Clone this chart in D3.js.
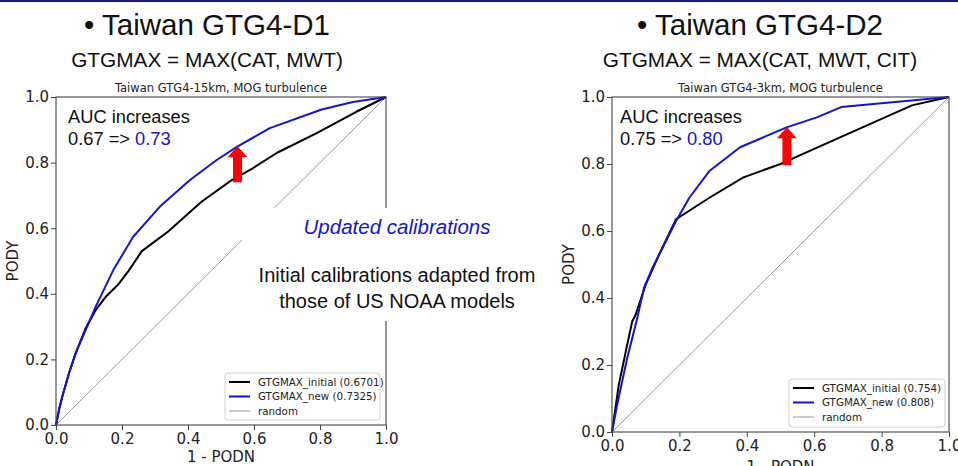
<!DOCTYPE html>
<html>
<head>
<meta charset="utf-8">
<script src="https://cdn.jsdelivr.net/npm/d3@7"></script>
<style>
    body { margin: 0; padding: 0; background: #fff; }
    svg { display: block; }
    .mpl { font-family: "DejaVu Sans", sans-serif; }
    .slide { font-family: "Liberation Sans", Arial, sans-serif; }
</style>
</head>
<body>
<div id="chart"></div>
<script>
// ---- data ----
var tickValues = [0, 0.2, 0.4, 0.6, 0.8, 1.0];

var d1Initial = [[0,0],[0.01,0.05],[0.02,0.09],[0.04,0.16],[0.06,0.22],[0.09,0.295],[0.12,0.35],
    [0.15,0.39],[0.19,0.43],[0.22,0.47],[0.26,0.53],[0.34,0.59],[0.44,0.68],[0.53,0.745],
    [0.60,0.785],[0.67,0.83],[0.79,0.89],[0.91,0.955],[1,1]];
var d1New = [[0,0],[0.01,0.05],[0.02,0.09],[0.04,0.16],[0.06,0.22],[0.09,0.29],[0.12,0.36],
    [0.174,0.473],[0.234,0.574],[0.315,0.666],[0.406,0.747],[0.487,0.808],[0.548,0.848],
    [0.648,0.905],[0.805,0.962],[0.90,0.985],[1,1]];

var d2Initial = [[0,0],[0.02,0.14],[0.045,0.26],[0.06,0.33],[0.07,0.35],[0.10,0.44],[0.14,0.53],
    [0.19,0.635],[0.29,0.70],[0.39,0.76],[0.50,0.80],[0.60,0.845],[0.70,0.89],[0.89,0.975],[1,1]];
var d2New = [[0,0],[0.015,0.08],[0.045,0.22],[0.075,0.34],[0.095,0.43],[0.12,0.49],[0.14,0.53],
    [0.19,0.63],[0.23,0.70],[0.29,0.78],[0.38,0.85],[0.45,0.88],[0.52,0.91],[0.61,0.94],
    [0.68,0.97],[1,1]];
var randomLine = [[0,0],[1,1]];

var d1Legend = ["GTGMAX_initial (0.6701)", "GTGMAX_new (0.7325)", "random"];
var d2Legend = ["GTGMAX_initial (0.754)", "GTGMAX_new (0.808)", "random"];

var BLUE = "#1414c8";
var SERIES_STYLE = [
    { color: "#000", width: 2 },
    { color: BLUE, width: 2 },
    { color: "#999", width: 1 }
];

var panels = [
    {
        heading: "\u2022 Taiwan GTG4-D1", formula: "GTGMAX = MAX(CAT, MWT)", headX: 207,
        title: "Taiwan GTG4-15km, MOG turbulence",
        left: 56, right: 386, top: 97, bottom: 425,
        series: [d1Initial, d1New, randomLine], legend: d1Legend,
        legendBox: { x: 225, y: 373, w: 155, h: 47 },
        auc: ["0.67 => ", "0.73"], aucX: 68,
        arrow: { x: 0.55, y: 0.85, len: 36 },
        xLabelY: 462
    },
    {
        heading: "\u2022 Taiwan GTG4-D2", formula: "GTGMAX = MAX(CAT, MWT, CIT)", headX: 760,
        title: "Taiwan GTG4-3km, MOG turbulence",
        left: 612, right: 949, top: 97, bottom: 432,
        series: [d2Initial, d2New, randomLine], legend: d2Legend,
        legendBox: { x: 789, y: 379, w: 156, h: 48 },
        auc: ["0.75 => ", "0.80"], aucX: 620,
        arrow: { x: 0.519, y: 0.91, len: 38 },
        xLabelY: 472
    }
];

var W = 958, H = 466;
var svg = d3.select("#chart").append("svg").attr("width", W).attr("height", H);

svg.append("rect").attr("x", 0).attr("y", 0).attr("width", W).attr("height", 2).attr("fill", "#1c1c78");

panels.forEach(function(p, idx) {
    var x = d3.scaleLinear().domain([0, 1]).range([p.left, p.right]);
    var y = d3.scaleLinear().domain([0, 1]).range([p.bottom, p.top]);
    var cx = (p.left + p.right) / 2;

    // slide headings
    svg.append("text").attr("class", "slide").attr("x", p.headX).attr("y", 35)
        .attr("text-anchor", "middle").attr("font-size", 29.5).attr("fill", "#111").text(p.heading);
    svg.append("text").attr("class", "slide").attr("x", p.headX).attr("y", 67)
        .attr("text-anchor", "middle").attr("font-size", 20.8).attr("fill", "#111").text(p.formula);

    // plot title
    svg.append("text").attr("class", "mpl").attr("x", cx).attr("y", p.top - 5)
        .attr("text-anchor", "middle").attr("font-size", 11.5).attr("fill", "#222").text(p.title);

    var line = d3.line().x(function(d) { return x(d[0]); }).y(function(d) { return y(d[1]); });
    var g = svg.append("g");
    // draw random first, then initial, then new on top
    [2, 0, 1].forEach(function(i) {
        g.append("path").datum(p.series[i]).attr("d", line).attr("fill", "none")
            .attr("stroke", SERIES_STYLE[i].color).attr("stroke-width", SERIES_STYLE[i].width)
            .attr("stroke-linejoin", "round");
    });

    // spines
    svg.append("rect").attr("x", p.left).attr("y", p.top)
        .attr("width", p.right - p.left).attr("height", p.bottom - p.top)
        .attr("fill", "none").attr("stroke", "#444").attr("stroke-width", 1.1);

    // axes
    var xa = svg.append("g").attr("class", "mpl").attr("transform", "translate(0," + p.bottom + ")")
        .call(d3.axisBottom(x).tickValues(tickValues).tickFormat(d3.format(".1f")).tickSize(5).tickPadding(3));
    var ya = svg.append("g").attr("class", "mpl").attr("transform", "translate(" + p.left + ",0)")
        .call(d3.axisLeft(y).tickValues(tickValues).tickFormat(d3.format(".1f")).tickSize(5).tickPadding(2));
    [xa, ya].forEach(function(a) {
        a.select(".domain").remove();
        a.selectAll("line").attr("stroke", "#444");
        a.selectAll("text").attr("font-size", 15).attr("fill", "#222").attr("font-family", "DejaVu Sans");
    });

    svg.append("text").attr("class", "mpl").attr("x", cx).attr("y", p.xLabelY)
        .attr("text-anchor", "middle").attr("font-size", 15).attr("fill", "#222").text("1 - PODN");
    svg.append("text").attr("class", "mpl")
        .attr("transform", "translate(" + (p.left - 38) + "," + ((p.top + p.bottom) / 2) + ") rotate(-90)")
        .attr("text-anchor", "middle").attr("font-size", 15).attr("fill", "#222").text("PODY");

    // legend
    var lb = p.legendBox;
    svg.append("rect").attr("x", lb.x).attr("y", lb.y).attr("width", lb.w).attr("height", lb.h)
        .attr("rx", 3).attr("fill", "#fff").attr("fill-opacity", 0.85)
        .attr("stroke", "#d0d0d0").attr("stroke-width", 1);
    var items = svg.append("g").attr("class", "mpl").selectAll("g").data(p.legend).enter().append("g")
        .attr("transform", function(d, i) { return "translate(" + (lb.x + 4) + "," + (lb.y + 9 + i * 14.5) + ")"; });
    items.append("line").attr("x1", 0).attr("x2", 21).attr("y1", 0).attr("y2", 0)
        .attr("stroke", function(d, i) { return SERIES_STYLE[i].color; })
        .attr("stroke-width", function(d, i) { return SERIES_STYLE[i].width; });
    items.append("text").attr("x", 29).attr("y", 3.6).attr("font-size", 10.3).attr("fill", "#222")
        .text(function(d) { return d; });

    // AUC annotation
    svg.append("text").attr("class", "slide").attr("x", p.aucX).attr("y", 123)
        .attr("font-size", 18.3).attr("fill", "#111").text("AUC increases");
    var t = svg.append("text").attr("class", "slide").attr("x", p.aucX).attr("y", 145)
        .attr("font-size", 18.3).attr("fill", "#111");
    t.append("tspan").text(p.auc[0]);
    t.append("tspan").attr("fill", BLUE).text(p.auc[1]);

    // red arrow pointing up to the new curve
    var ax = x(p.arrow.x), ay = y(p.arrow.y), L = p.arrow.len;
    svg.append("path").attr("fill", "#ff0000")
        .attr("d", "M" + ax + "," + ay + " L" + (ax + 10) + "," + (ay + 11) + " L" + (ax + 4.5) + "," + (ay + 11) +
            " L" + (ax + 4.5) + "," + (ay + L) + " L" + (ax - 4.5) + "," + (ay + L) + " L" + (ax - 4.5) + "," + (ay + 11) +
            " L" + (ax - 10) + "," + (ay + 11) + " Z");
});

// slide text box over the left chart
svg.append("rect").attr("x", 242).attr("y", 208).attr("width", 318).attr("height", 113).attr("fill", "#fff");
svg.append("text").attr("class", "slide").attr("x", 397).attr("y", 234).attr("text-anchor", "middle")
    .attr("font-size", 20.5).attr("font-style", "italic").attr("fill", BLUE).text("Updated calibrations");
svg.append("text").attr("class", "slide").attr("x", 397).attr("y", 282).attr("text-anchor", "middle")
    .attr("font-size", 20).attr("fill", "#111").text("Initial calibrations adapted from");
svg.append("text").attr("class", "slide").attr("x", 397).attr("y", 308).attr("text-anchor", "middle")
    .attr("font-size", 20).attr("fill", "#111").text("those of US NOAA models");
</script>
</body>
</html>
